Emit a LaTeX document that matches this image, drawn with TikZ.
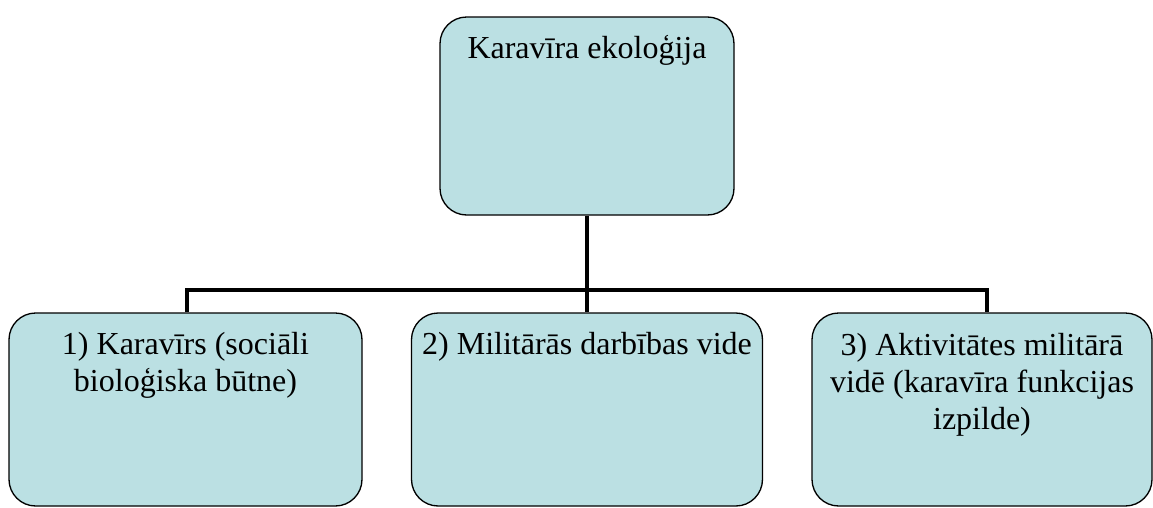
\documentclass[tikz,border=0pt]{standalone}
\usepackage{fontspec}
\setmainfont{Liberation Serif}
\usetikzlibrary{positioning}
\definecolor{boxfill}{RGB}{187,224,227}

\begin{document}
\begin{tikzpicture}[
      x=0.75pt,
      y=-0.75pt,
      box/.style={draw, fill=boxfill, rounded corners=20pt, line width=1pt,
        inner sep=0pt},
      txt/.style={align=center, inner sep=0pt, anchor=base,
        font=\fontsize{24}{27.75}\selectfont},
      link/.style={line width=3.6pt}
    ]
    \useasboundingbox (0,0) rectangle (1153,507);

    % bus between the levels
    \coordinate (busL) at (187,290);
    \coordinate (busR) at (987,290);

    \node[box, minimum width=220.5pt, minimum height=148.5pt] (topbox) at (587,116) {};
    \node[box, minimum width=264.75pt, minimum height=144.75pt] (leftbox) at (185.5,409.5) {};
    \node[box, minimum width=263.25pt, minimum height=144.75pt] (midbox) at (587,409.5) {};
    \node[box, minimum width=255pt, minimum height=144.75pt] (rightbox) at (982,409.5) {};

    \draw[link] (topbox.south) -- (midbox.north);
    \draw[link] (busL |- leftbox.north) -- (busL) -- (busR) -- (busR |- rightbox.north);

    % base = last line
    \node[txt] (toptext) at (587,58) {Karavīra ekoloģija};
    \node[txt] (lefttext) at (185.5,391) {1) Karavīrs (sociāli\\bioloģiska būtne)};
    \node[txt] (midtext) at (587,354) {2) Militārās darbības vide};
    \node[txt] (righttext) at (982,429) {3) Aktivitātes militārā\\vidē (karavīra funkcijas\\izpilde)};
  \end{tikzpicture}
\end{document}
